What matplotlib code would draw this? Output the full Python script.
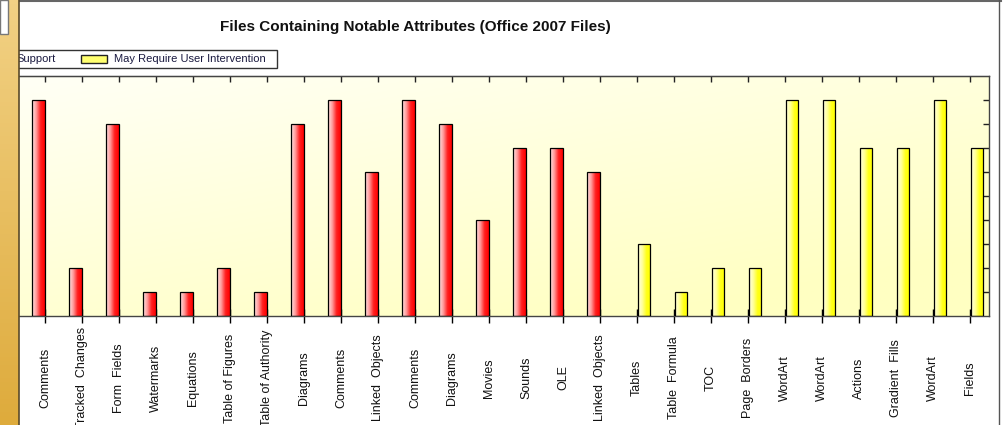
import numpy as np
import matplotlib
matplotlib.use("Agg")
import matplotlib.pyplot as plt
from matplotlib import font_manager
from matplotlib.colors import LinearSegmentedColormap, to_rgb
from matplotlib.patches import Rectangle
from matplotlib.lines import Line2D

# --- datos ---
CATEGORIAS = ["Comments", "Tracked  Changes", "Form  Fields", "Watermarks", "Equations",
              "Table of Figures", "Table of Authority", "Diagrams", "Comments",
              "Linked  Objects", "Comments", "Diagrams", "Movies", "Sounds", "OLE",
              "Linked  Objects", "Tables", "Table  Formula", "TOC", "Page  Borders",
              "WordArt", "WordArt", "Actions", "Gradient  Fills", "WordArt", "Fields"]
SOPORTE = [9, 2, 8, 1, 1, 2, 1, 8, 9, 6, 9, 8, 4, 7, 7, 6,
           0, 0, 0, 0, 0, 0, 0, 0, 0, 0]
INTERVENCION = [0, 0, 0, 0, 0, 0, 0, 0, 0, 0, 0, 0, 0, 0, 0, 0,
                3, 1, 2, 2, 9, 9, 7, 7, 9, 7]
SERIES = ["Support", "May Require User Intervention"]
TITULO = "Files Containing Notable Attributes (Office 2007 Files)"
Y_TICKS = [1, 2, 3, 4, 5, 6, 7, 8, 9]

W, H = 1004, 425
disp = {f.name for f in font_manager.fontManager.ttflist}
NARROW = "Liberation Sans Narrow" if "Liberation Sans Narrow" in disp else "Liberation Sans"
SANS = "Liberation Sans"


def fx(x):
    return x / W


def fy(y):
    return 1 - y / H


fig = plt.figure(figsize=(W / 100, H / 100), dpi=100)
fig.patch.set_facecolor("white")

ax = fig.add_axes([fx(8), 109 / H, (989 - 8) / W, 240 / H])

# fondo degradado del area de trazado
nx, ny = 200, 100
gx, gy = np.meshgrid(np.linspace(0, 1, nx), np.linspace(1, 0, ny))
t = np.clip((gx * 0.6 + (1 - gy) * 0.8) / 1.2, 0, 1)[..., None]
c0, c1 = np.array(to_rgb("#FFFFF6")), np.array(to_rgb("#FFFFC2"))
bg = c0 * (1 - t) + c1 * t
ax.imshow(bg, extent=(0, 1, 0, 1), transform=ax.transAxes, aspect="auto", zorder=0)

x = np.arange(len(CATEGORIAS))
ancho = 0.33
b1 = ax.bar(x - 0.175, SOPORTE, ancho, facecolor="none", edgecolor="black", lw=0.9, zorder=3)
b2 = ax.bar(x + 0.185, INTERVENCION, ancho, facecolor="none", edgecolor="black", lw=0.9, zorder=3)

cm_rojo = LinearSegmentedColormap.from_list("r", ["#FFE6E6", "#FF9A9A", "#FF2020", "#FF0000"])
cm_amar = LinearSegmentedColormap.from_list("y", ["#FFFFE2", "#FFFF9A", "#FFFF18", "#FFFF00"])
grad = np.linspace(0, 1, 64)[None, :]
for bars, cm in [(b1, cm_rojo), (b2, cm_amar)]:
    for p in bars:
        if p.get_height() <= 0:
            p.set_visible(False)
            continue
        x0, y0 = p.get_x(), p.get_y()
        im = ax.imshow(grad, cmap=cm, extent=(x0, x0 + p.get_width(), y0, y0 + p.get_height()),
                       aspect="auto", zorder=2)
        im.set_clip_path(p)

ax.set_xlim(-1.0, 25.514)
ax.set_ylim(0, 10)

ax.set_xticks(x, CATEGORIAS)
ax.tick_params(axis="x", direction="inout", length=10, width=1, color="black", pad=39.6,
               labelsize=9, labelcolor="#111111")
for lbl in ax.get_xticklabels():
    lbl.set_rotation(90)
    lbl.set_va("center")
    lbl.set_family(SANS)

top = ax.secondary_xaxis("top")
top.set_xticks(x)
top.set_xticklabels([])
top.tick_params(direction="in", length=4, width=1, color="#222")

ax.yaxis.tick_right()
ax.set_yticks(Y_TICKS)
ax.tick_params(axis="y", direction="in", length=4.5, width=1, labelright=False, color="#222")

for s in ax.spines.values():
    s.set_color("#444")
    s.set_linewidth(1)

# titulo
fig.text(fx(415), fy(27), TITULO, ha="center", va="center", fontsize=11,
         fontweight="bold", family=NARROW, color="#111")

# leyenda (cortada a la izquierda)
fig.patches.append(Rectangle((fx(-10), fy(68)), 287 / W, 18 / H, transform=fig.transFigure,
                             facecolor="white", edgecolor="#333", lw=1, zorder=1))
fig.patches.append(Rectangle((fx(81), fy(63)), 26 / W, 8 / H, transform=fig.transFigure,
                             facecolor="#FFFF70", edgecolor="#222", lw=1, zorder=2))
fig.text(fx(56), fy(59), SERIES[0], ha="right", va="center", fontsize=8,
         family=NARROW, color="#1a1a40")
fig.text(fx(114), fy(59), SERIES[1], ha="left", va="center", fontsize=8,
         family=NARROW, color="#1a1a40")

# marco
fig.add_artist(Line2D([fx(19), fx(1001)], [fy(1), fy(1)], transform=fig.transFigure,
                      color="#666", lw=1.5))
fig.add_artist(Line2D([fx(999.5), fx(999.5)], [0, 1], transform=fig.transFigure,
                      color="#555", lw=1))

# franja dorada de la izquierda
strip = fig.add_axes([0, 0, 18.5 / W, 1], zorder=10)
sg = np.linspace(0, 1, 100)[:, None, None]
cs0, cs1 = np.array(to_rgb("#F2D184")), np.array(to_rgb("#DEAB3C"))
strip_img = np.repeat(cs0 * (1 - sg) + cs1 * sg, 4, axis=1)
strip.imshow(strip_img, aspect="auto", extent=(0, 1, 0, 1))
strip.set_xlim(0, 1)
strip.set_ylim(0, 1)
strip.axis("off")
strip.add_patch(Rectangle((0, 1 - 34 / H), 8 / 18.5, 34 / H, facecolor="white",
                          edgecolor="#777", lw=1))
fig.add_artist(Line2D([fx(18.8), fx(18.8)], [0, 1], transform=fig.transFigure,
                      color="#5a4a2a", lw=1.2, zorder=11))

fig.savefig("out.png", dpi=100)
